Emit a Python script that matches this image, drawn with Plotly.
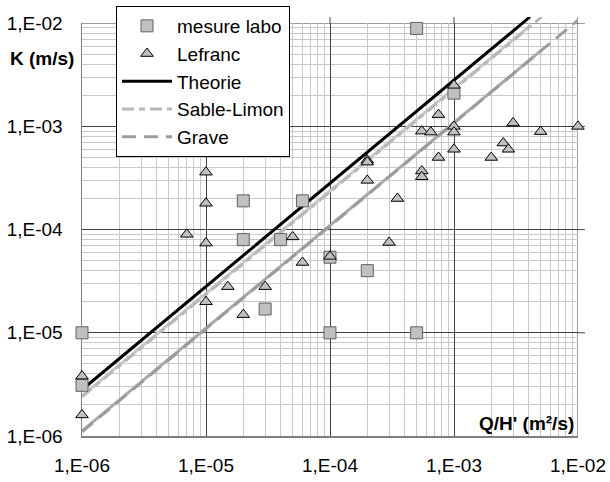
import plotly.graph_objects as go

# ---------------- data ----------------
labo_x = [1e-6, 1e-6, 2e-5, 6e-5, 2e-5, 4e-5, 3e-5, 1e-4, 2e-4, 1e-4, 5e-4, 5e-4, 1e-3]
labo_y = [1e-5, 3.1e-6, 1.9e-4, 1.9e-4, 8e-5, 8e-5, 1.7e-5, 5.4e-5, 4.0e-5, 1e-5, 1e-5, 8.9e-3, 2.1e-3]

lef_x = [1e-5, 1e-5, 7e-6, 1e-5, 5e-5, 6e-5, 1.5e-5, 3e-5, 1e-5, 2e-5, 1e-6, 1e-6,
         1e-4, 3e-4, 2e-4, 2e-4, 2e-4, 3.5e-4, 5.5e-4, 5.5e-4, 5.5e-4, 6.5e-4, 7.5e-4,
         7.5e-4, 1e-3, 1e-3, 1e-3, 1e-3, 2e-3, 2.5e-3, 2.75e-3, 3e-3, 5e-3, 1e-2]
lef_y = [3.6e-4, 1.8e-4, 9e-5, 7.4e-5, 8.5e-5, 4.8e-5, 2.8e-5, 2.8e-5, 2e-5, 1.5e-5, 3.8e-6, 1.6e-6,
         5.5e-5, 7.5e-5, 4.7e-4, 4.5e-4, 3e-4, 2e-4, 3.7e-4, 3.25e-4, 9e-4, 8.8e-4, 1.3e-3,
         5e-4, 2.5e-3, 1.0e-3, 8.8e-4, 6e-4, 5e-4, 6.9e-4, 6e-4, 1.08e-3, 8.9e-4, 1e-3]

theo_x = [1.05e-6, 4.1e-3]
theo_y = [2.95e-6, 1.15e-2]

sable_x = [1e-6, 5.1e-3]
sable_y = [2.4e-6, 1.15e-2]
sable_solid_x = [1e-6, 4.0e-3]
sable_solid_y = [2.45e-6, 9.2e-3]

grave_x = [1e-6, 1e-2]
grave_y = [1.1e-6, 1.07e-2]
grave_solid_x = [1e-6, 5e-3]
grave_solid_y = [1.12e-6, 5.4e-3]

dec_vals = [1e-6, 1e-5, 1e-4, 1e-3, 1e-2]
dec_text = ["1,E-06", "1,E-05", "1,E-04", "1,E-03", "1,E-02"]
minor_vals = [m * 10.0 ** e for e in range(-6, -2) for m in range(2, 10)]

# ---------------- figure ----------------
FONT = "Liberation Sans, Arial, sans-serif"
YTOP = -1.94
YDOM = 4.0 / (YTOP + 6.0)
MAJOR = "#404040"

fig = go.Figure()

# dummy trace to create base subplot (grid / ticks)
fig.add_trace(go.Scatter(x=[1e-4], y=[1e-4], mode="markers", marker=dict(opacity=0),
                         showlegend=False, hoverinfo="skip", xaxis="x", yaxis="y"))

common = dict(xaxis="x2", yaxis="y2", hoverinfo="skip")

fig.add_trace(go.Scatter(x=sable_solid_x, y=sable_solid_y, mode="lines",
                         line=dict(color="#c8c8c8", width=3), showlegend=False, **common))
fig.add_trace(go.Scatter(x=grave_solid_x, y=grave_solid_y, mode="lines",
                         line=dict(color="#a8a8a8", width=3), showlegend=False, **common))
fig.add_trace(go.Scatter(x=sable_x, y=sable_y, mode="lines", name="Sable-Limon", legendrank=4,
                         line=dict(color="#b8b8b8", width=3, dash="12px,5px,6px,5px"), **common))
fig.add_trace(go.Scatter(x=grave_x, y=grave_y, mode="lines", name="Grave", legendrank=5,
                         line=dict(color="#9c9c9c", width=3, dash="14px,8px"), **common))
fig.add_trace(go.Scatter(x=theo_x, y=theo_y, mode="lines", name="Theorie", legendrank=3,
                         line=dict(color="black", width=3), **common))
fig.add_trace(go.Scatter(x=labo_x, y=labo_y, mode="markers", name="mesure labo", legendrank=1,
                         cliponaxis=False,
                         marker=dict(symbol="square", size=12, color="#c0c0c0",
                                     line=dict(color="#606060", width=1)), **common))
fig.add_trace(go.Scatter(x=lef_x, y=lef_y, mode="markers", name="Lefranc", legendrank=2,
                         cliponaxis=False,
                         marker=dict(symbol="triangle-up", size=11, color="#c0c0c0",
                                     line=dict(color="black", width=1)), **common))

axis_common = dict(
    type="log",
    automargin=False,
    showline=True, linecolor="#808080", linewidth=1.5,
    showgrid=True, gridcolor=MAJOR, gridwidth=1,
    zeroline=False,
    ticks="",
    tickmode="array", tickvals=dec_vals, ticktext=dec_text,
    tickfont=dict(family=FONT, size=19, color="black"),
    minor=dict(tickmode="array", tickvals=minor_vals, showgrid=True,
               gridcolor="#c8c8c8", gridwidth=1, ticks=""),
)

# edge gridlines + small outer tick stubs on top / right
shapes = []
shapes.append(dict(type="line", xref="x", yref="paper", x0=dec_vals[-1], x1=dec_vals[-1],
                   y0=0, y1=1, line=dict(color=MAJOR, width=1), layer="below"))
shapes.append(dict(type="line", xref="paper", yref="y", x0=0, x1=1.014,
                   y0=dec_vals[-1], y1=dec_vals[-1], line=dict(color=MAJOR, width=1), layer="below"))
for v in dec_vals[1:-1]:
    shapes.append(dict(type="line", xref="x", yref="paper", x0=v, x1=v, y0=YDOM, y1=1.0,
                       line=dict(color=MAJOR, width=1), layer="below"))
    shapes.append(dict(type="line", xref="paper", yref="y", x0=1.0, x1=1.014, y0=v, y1=v,
                       line=dict(color=MAJOR, width=1), layer="below"))

fig.update_layout(
    width=610, height=482,
    margin=dict(l=82, r=32, t=17, b=46, autoexpand=False),
    paper_bgcolor="white",
    plot_bgcolor="rgba(0,0,0,0)",
    hovermode=False,
    font=dict(family=FONT, size=19, color="black"),
    xaxis=dict(range=[-6, -2], domain=[0, 1], anchor="y", ticklabelstandoff=12, **axis_common),
    yaxis=dict(range=[-6, -2], domain=[0, YDOM], anchor="x", ticklabelstandoff=14, **axis_common),
    xaxis2=dict(type="log", range=[-6, -1.9995], domain=[0, 1], anchor="y2", visible=False),
    yaxis2=dict(type="log", range=[-6, YTOP], domain=[0, 1], anchor="x2", visible=False),
    legend=dict(
        x=(116 - 82) / 496, y=(436 - 6) / 419, xanchor="left", yanchor="top",
        bgcolor="white", bordercolor="black", borderwidth=1,
        font=dict(family=FONT, size=19, color="black"),
        itemwidth=50, traceorder="normal",
    ),
    shapes=shapes,
    annotations=[
        dict(text="<b>K (m/s)</b>", xref="paper", yref="paper",
             x=(8 - 82) / 496, y=(436 - 58) / 419, xanchor="left", yanchor="middle",
             showarrow=False, font=dict(family=FONT, size=19, color="black")),
        dict(text="<b>Q/H' (m²/s)</b>", xref="paper", yref="paper",
             x=(576 - 82) / 496, y=(436 - 423) / 419, xanchor="right", yanchor="middle",
             showarrow=False, font=dict(family=FONT, size=19, color="black")),
    ],
)

fig.write_html(
    "out.html",
    config={"displayModeBar": False, "staticPlot": True},
    post_script="document.body.style.margin='0';document.body.style.overflow='hidden';",
)
